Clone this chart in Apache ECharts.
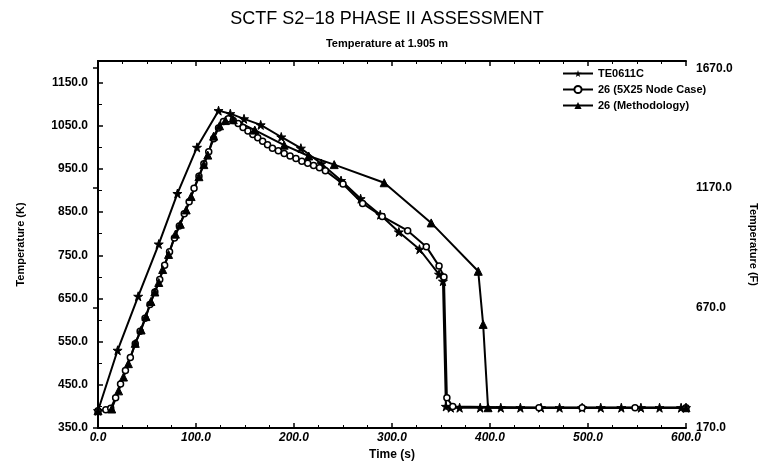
<!DOCTYPE html>
<html>
<head>
<meta charset="utf-8">
<title>SCTF S2-18 PHASE II ASSESSMENT</title>
<script src="https://cdn.jsdelivr.net/npm/echarts@6/dist/echarts.min.js"></script>
<style>
    html, body { margin: 0; padding: 0; background: #fff; }
    #chart { width: 774px; height: 469px; }
</style>
</head>
<body>
<div id="chart"></div>
<script>
// 数据：时间 (s) 和温度 (K)
var teTime = [0, 20, 41, 62, 81, 101, 123, 135, 149, 166, 187, 207, 228, 248, 268, 288, 307, 328, 348, 352, 355, 360, 369, 390, 411, 431, 452, 471, 494, 513, 534, 554, 573, 595, 600];
var teTemp = [390, 530, 655, 776, 893, 1000, 1085, 1078, 1066, 1052, 1024, 998, 962, 923, 881, 844, 804, 764, 706, 690, 400, 397, 397, 397, 397, 397, 397, 397, 397, 397, 397, 397, 397, 397, 397];

var nodeTime = [0, 8, 13, 18, 23, 28, 33, 38, 43, 48, 53, 58, 63, 68, 73, 78, 83, 88, 93, 98, 103, 108, 113, 118, 123, 128, 133, 138, 143, 148, 153, 158, 163, 168, 173, 178, 184, 190, 196, 202, 208, 214, 220, 226, 232, 250, 270, 290, 316, 335, 348, 353, 356, 362, 450, 494, 548, 600];
var nodeTemp = [390, 392, 396, 420, 452, 483, 513, 545, 574, 604, 636, 665, 694, 727, 758, 790, 818, 846, 874, 905, 933, 962, 990, 1020, 1045, 1060, 1066, 1062, 1055, 1046, 1038, 1030, 1022, 1014, 1006, 998, 992, 986, 980, 974, 968, 963, 958, 953, 946, 915, 870, 840, 807, 770, 725, 700, 420, 400, 397, 397, 397, 397];

var methTime = [0, 14, 21, 26, 31, 38, 44, 49, 54, 58, 62, 66, 72, 79, 84, 90, 95, 103, 108, 112, 118, 124, 130, 138, 160, 190, 215, 241, 292, 340, 388, 393, 398, 600];
var methTemp = [390, 394, 436, 468, 499, 546, 577, 608, 643, 665, 687, 717, 752, 799, 822, 855, 886, 932, 960, 982, 1026, 1050, 1062, 1064, 1040, 1005, 980, 960, 918, 825, 713, 590, 397, 397];

// 坐标轴
var kMin = 350, kMax = 1200;
var fMin = 170.33, fMax = 1700.33;

(function() {
    function pairs(t, v) {
        return t.map(function(x, i) { return [x, v[i]]; });
    }
    var star = "path://M50,0 L61,35 98,35 68,57 79,91 50,70 21,91 32,57 2,35 39,35 Z";
    var font = "'Liberation Sans', Arial, sans-serif";
    var black = "#000";

    var myChart = echarts.init(document.getElementById("chart"));
    var option = {
        backgroundColor: "#fff",
        animation: false,
        title: [{
            text: "SCTF S2−18 PHASE II ASSESSMENT",
            left: "center",
            top: 5,
            textStyle: { fontFamily: font, fontSize: 18, fontWeight: "normal", color: black }
        }, {
            text: "Temperature at 1.905 m",
            left: "center",
            top: 33,
            textStyle: { fontFamily: font, fontSize: 11, fontWeight: "bold", color: black }
        }],
        legend: {
            orient: "vertical",
            left: 557,
            top: 63,
            itemWidth: 30,
            itemHeight: 9,
            itemGap: 5,
            textStyle: { fontFamily: font, fontSize: 11, fontWeight: "bold", color: black },
            data: ["TE0611C", "26 (5X25 Node Case)", "26 (Methodology)"]
        },
        grid: { left: 98, right: 88, top: 61, bottom: 41 },
        xAxis: [{
            type: "value",
            min: 0,
            max: 600,
            interval: 100,
            name: "Time (s)",
            nameLocation: "middle",
            nameGap: 16,
            nameTextStyle: { fontFamily: font, fontSize: 12, fontWeight: "bold", color: black },
            axisLine: { lineStyle: { color: black, width: 2 } },
            axisTick: { inside: true, length: 5, lineStyle: { color: black, width: 1.5 } },
            minorTick: { show: true, splitNumber: 4, length: 3, lineStyle: { color: black } },
            splitLine: { show: false },
            axisLabel: {
                fontFamily: font, fontSize: 12, fontWeight: "bold", fontStyle: "italic", color: black, margin: 4,
                formatter: function(v) { return v.toFixed(1); }
            }
        }, {
            type: "value",
            position: "top",
            min: 0,
            max: 600,
            interval: 100,
            axisLine: { lineStyle: { color: black, width: 2 } },
            axisTick: { inside: true, length: 5, lineStyle: { color: black, width: 1.5 } },
            minorTick: { show: true, splitNumber: 4, length: 3, lineStyle: { color: black } },
            splitLine: { show: false },
            axisLabel: { show: false }
        }],
        yAxis: [{
            type: "value",
            min: kMin,
            max: kMax,
            interval: 100,
            name: "Temperature (K)",
            nameLocation: "middle",
            nameGap: 72,
            nameTextStyle: { fontFamily: font, fontSize: 11, fontWeight: "bold", color: black },
            axisLine: { lineStyle: { color: black, width: 2 } },
            axisTick: { inside: true, length: 5, lineStyle: { color: black, width: 1.5 } },
            minorTick: { show: true, splitNumber: 2, length: 4, lineStyle: { color: black } },
            splitLine: { show: false },
            axisLabel: {
                showMaxLabel: false,
                fontFamily: font, fontSize: 12, fontWeight: "bold", color: black, margin: 10,
                formatter: function(v) { return v.toFixed(1); }
            }
        }, {
            type: "value",
            position: "right",
            min: fMin,
            max: fMax,
            interval: 500,
            name: "Temperature (F)",
            nameLocation: "middle",
            nameRotate: -90,
            nameGap: 62,
            nameTextStyle: { fontFamily: font, fontSize: 11, fontWeight: "bold", color: black },
            axisLine: { show: true, lineStyle: { color: black, width: 2 } },
            axisTick: { inside: true, length: 5, lineStyle: { color: black, width: 1.5 } },
            splitLine: { show: false },
            axisLabel: {
                showMaxLabel: false,
                fontFamily: font, fontSize: 12, fontWeight: "bold", color: black, margin: 10,
                formatter: function(v) { return Math.round(v).toFixed(1); }
            }
        }],
        series: [{
            name: "TE0611C",
            type: "line",
            data: pairs(teTime, teTemp),
            symbol: star,
            symbolSize: 9,
            lineStyle: { color: black, width: 2 },
            itemStyle: { color: black, borderColor: black }
        }, {
            name: "26 (5X25 Node Case)",
            type: "line",
            data: pairs(nodeTime, nodeTemp),
            symbol: "circle",
            symbolSize: 6,
            lineStyle: { color: black, width: 2 },
            itemStyle: { color: "#fff", borderColor: black, borderWidth: 1.5 }
        }, {
            name: "26 (Methodology)",
            type: "line",
            data: pairs(methTime, methTemp),
            symbol: "triangle",
            symbolSize: 8,
            lineStyle: { color: black, width: 2 },
            itemStyle: { color: black, borderColor: black }
        }]
    };
    myChart.setOption(option);
    window.addEventListener("resize", function() {
        myChart.resize();
    });
})();
</script>
</body>
</html>
